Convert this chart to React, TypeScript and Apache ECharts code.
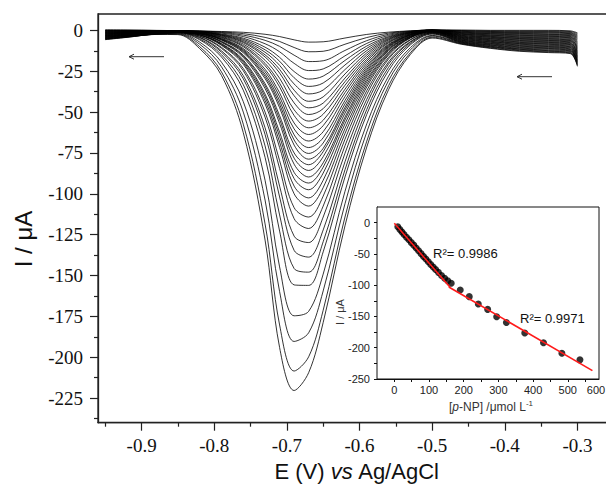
import React, { useEffect, useRef } from "react";
import * as echarts from "echarts";

// Potential grid (V vs Ag/AgCl) shared by all DPV curves
const potentials = [-0.95, -0.92, -0.88, -0.85, -0.82, -0.79, -0.76, -0.73, -0.71, -0.69, -0.67, -0.65, -0.62, -0.59, -0.56, -0.53, -0.5, -0.46, -0.42, -0.38, -0.34, -0.31, -0.3];

// Current (µA) for each successive addition
const curve00 = [0.3, 0.2, 0, -0.2, -0.4, -0.7, -1.2, -2.4, -3.8, -5.8, -7.2, -7.0, -4.7, -2.5, -1.1, -0.3, 0.2, 0.2, 0, 0, 0, -0.3, -1.5];
const curve01 = [0.1, 0.1, -0.1, -0.2, -0.4, -1.0, -2.0, -4.3, -6.8, -10.5, -13.1, -12.8, -8.5, -4.4, -1.7, -0.4, 0.2, -0.1, -0.3, -0.4, -0.4, -0.7, -2.1];
const curve02 = [-0.1, -0.1, -0.2, -0.3, -0.5, -1.3, -2.9, -6.1, -9.8, -15.2, -19.1, -18.6, -12.3, -6.3, -2.4, -0.6, 0.2, -0.3, -0.7, -0.8, -0.8, -1.2, -2.8];
const curve03 = [-0.2, -0.2, -0.2, -0.3, -0.6, -1.7, -3.8, -8.2, -13.1, -20.2, -24.6, -23.6, -15.6, -8.0, -3.1, -0.8, 0.2, -0.6, -1.0, -1.2, -1.2, -1.6, -3.4];
const curve04 = [-0.4, -0.3, -0.3, -0.4, -0.7, -2.2, -4.8, -10.3, -16.5, -25.2, -29.8, -28.0, -18.4, -9.6, -3.8, -1.0, 0.1, -0.9, -1.3, -1.5, -1.6, -2.0, -4.0];
const curve05 = [-0.6, -0.5, -0.4, -0.4, -0.8, -2.5, -5.5, -11.9, -18.9, -29.0, -34.3, -32.2, -21.2, -11.0, -4.3, -1.2, 0.1, -1.1, -1.7, -1.9, -2.1, -2.4, -4.6];
const curve06 = [-0.8, -0.6, -0.5, -0.4, -0.9, -2.8, -6.2, -13.4, -21.4, -32.8, -38.9, -36.5, -24.0, -12.4, -4.9, -1.3, 0.1, -1.4, -2.0, -2.3, -2.5, -2.8, -5.2];
const curve07 = [-1.0, -0.8, -0.5, -0.5, -0.9, -3.0, -6.9, -15.0, -23.9, -36.6, -43.4, -40.7, -26.7, -13.8, -5.4, -1.5, 0.1, -1.6, -2.3, -2.7, -2.9, -3.2, -5.9];
const curve08 = [-1.2, -0.9, -0.6, -0.5, -1.0, -3.3, -7.5, -16.3, -26.1, -40.0, -47.4, -44.5, -29.2, -15.1, -5.9, -1.6, 0.1, -1.9, -2.7, -3.1, -3.3, -3.7, -6.5];
const curve09 = [-1.3, -1.0, -0.7, -0.6, -1.1, -3.7, -8.4, -18.3, -29.3, -44.4, -51.5, -47.9, -31.4, -16.4, -6.6, -1.8, 0.0, -2.2, -3.0, -3.5, -3.7, -4.1, -7.1];
const curve10 = [-1.5, -1.2, -0.8, -0.6, -1.3, -4.1, -9.3, -20.2, -32.3, -48.6, -55.5, -51.3, -33.6, -17.7, -7.2, -2.1, -0.1, -2.4, -3.3, -3.9, -4.1, -4.5, -7.7];
const curve11 = [-1.7, -1.3, -0.8, -0.6, -1.3, -4.4, -10.0, -21.6, -34.6, -52.1, -59.6, -55.0, -36.0, -18.9, -7.7, -2.2, -0.1, -2.7, -3.7, -4.3, -4.5, -4.9, -8.3];
const curve12 = [-1.9, -1.4, -0.9, -0.7, -1.5, -4.9, -11.1, -23.8, -38.2, -56.7, -63.7, -58.3, -38.1, -20.2, -8.5, -2.5, -0.2, -3.0, -4.0, -4.7, -5.0, -5.4, -9.0];
const curve13 = [-2.1, -1.6, -1.0, -0.7, -1.6, -5.2, -11.8, -25.3, -40.6, -60.3, -67.7, -62.0, -40.5, -21.5, -9.0, -2.6, -0.2, -3.2, -4.3, -5.0, -5.4, -5.8, -9.6];
const curve14 = [-2.2, -1.7, -1.1, -0.8, -1.6, -5.5, -12.4, -26.9, -43.0, -63.9, -71.7, -65.7, -42.9, -22.7, -9.5, -2.8, -0.2, -3.5, -4.7, -5.4, -5.8, -6.2, -10.2];
const curve15 = [-2.4, -1.8, -1.1, -0.8, -1.7, -5.7, -13.0, -28.2, -45.2, -67.1, -75.3, -68.9, -45.0, -23.9, -10.0, -2.9, -0.3, -3.8, -5.0, -5.8, -6.2, -6.6, -10.8];
const curve16 = [-2.6, -2.0, -1.2, -0.8, -1.8, -6.0, -13.7, -29.5, -47.3, -70.2, -78.8, -72.2, -47.1, -25.0, -10.5, -3.1, -0.3, -4.0, -5.3, -6.2, -6.6, -7.0, -11.4];
const curve17 = [-2.8, -2.1, -1.3, -0.9, -2.0, -6.7, -15.1, -32.6, -52.2, -75.0, -82.2, -74.2, -48.7, -26.2, -11.2, -3.5, -0.5, -4.3, -5.7, -6.6, -7.0, -7.5, -12.1];
const curve18 = [-3.0, -2.3, -1.4, -0.9, -2.1, -7.0, -15.7, -34.0, -54.4, -78.2, -85.7, -77.3, -50.7, -27.4, -11.7, -3.6, -0.5, -4.5, -6.0, -7.0, -7.4, -7.9, -12.7];
const curve19 = [-3.2, -2.4, -1.4, -1.0, -2.2, -7.3, -16.5, -35.6, -56.9, -81.9, -89.7, -81.0, -53.1, -28.6, -12.3, -3.8, -0.5, -4.8, -6.3, -7.4, -7.8, -8.3, -13.3];
const curve20 = [-3.3, -2.5, -1.5, -1.0, -2.6, -8.1, -18.1, -39.0, -62.3, -86.9, -93.4, -83.7, -54.8, -30.1, -13.2, -4.1, -0.8, -5.1, -6.7, -7.8, -8.2, -8.7, -13.9];
const curve21 = [-3.5, -2.7, -1.6, -1.0, -2.7, -8.4, -18.9, -40.7, -65.0, -90.7, -97.5, -87.3, -57.2, -31.4, -13.7, -4.3, -0.8, -5.3, -7.0, -8.1, -8.6, -9.1, -14.5];
const curve22 = [-3.7, -2.8, -1.7, -1.1, -2.8, -8.8, -19.8, -42.8, -68.3, -95.3, -102.5, -91.7, -60.1, -33.0, -14.4, -4.5, -0.8, -5.6, -7.3, -8.5, -9.1, -9.6, -15.2];
const curve23 = [-3.9, -2.9, -1.7, -1.1, -2.9, -9.2, -20.8, -44.9, -71.6, -100.0, -107.5, -96.2, -63.1, -34.6, -15.1, -4.7, -0.9, -5.9, -7.7, -8.9, -9.5, -10.0, -15.8];
const curve24 = [-4.1, -3.1, -1.8, -1.2, -3.4, -10.4, -23.3, -50.0, -79.7, -108.5, -114.2, -101.4, -66.6, -36.9, -16.5, -5.6, -1.2, -6.1, -8.0, -9.3, -9.9, -10.4, -16.4];
const curve25 = [-4.2, -3.2, -1.9, -1.2, -3.6, -11.0, -24.7, -53.1, -84.5, -115.2, -121.2, -107.5, -70.6, -39.2, -17.5, -5.9, -1.3, -6.4, -8.3, -9.7, -10.3, -10.8, -17.0];
const curve26 = [-4.4, -3.3, -2.0, -1.2, -4.2, -12.5, -27.7, -59.6, -95.3, -125.9, -129.8, -114.2, -75.2, -42.2, -19.3, -6.9, -1.6, -6.7, -8.7, -10.1, -10.7, -11.3, -17.7];
const curve27 = [-4.6, -3.5, -2.0, -1.3, -4.5, -13.4, -29.6, -63.7, -101.9, -134.6, -138.7, -122.1, -80.4, -45.0, -20.6, -7.3, -1.7, -6.9, -9.0, -10.5, -11.1, -11.7, -18.3];
const curve28 = [-4.8, -3.6, -2.1, -1.3, -5.2, -14.9, -33.2, -70.7, -112.9, -145.7, -147.9, -129.3, -85.3, -48.4, -22.6, -8.1, -2.0, -7.2, -9.3, -10.9, -11.5, -12.1, -18.9];
const curve29 = [-5.0, -3.8, -2.2, -1.5, -5.8, -16.3, -36.6, -77.7, -122.8, -155.7, -156.0, -135.5, -89.7, -51.4, -24.6, -8.9, -2.3, -7.4, -9.7, -11.3, -12.0, -12.5, -19.5];
const curve30 = [-5.2, -3.9, -2.3, -1.7, -7.2, -19.5, -43.6, -91.7, -144.7, -174.6, -171.9, -149.1, -98.5, -57.2, -28.0, -10.6, -3.1, -7.7, -10.0, -11.6, -12.4, -12.9, -20.1];
const curve31 = [-5.3, -4.0, -2.3, -2.0, -8.5, -22.3, -50.0, -103.8, -159.8, -190.3, -185.0, -159.4, -106.1, -62.2, -30.7, -12.0, -3.5, -8.0, -10.3, -12.0, -12.8, -13.4, -20.8];
const curve32 = [-5.5, -4.2, -2.4, -2.3, -10.0, -25.4, -57.4, -118.4, -180.2, -208.4, -199.7, -171.2, -114.2, -67.8, -33.9, -13.7, -4.2, -8.2, -10.7, -12.4, -13.2, -13.8, -21.4];
const curve33 = [-5.7, -4.3, -2.5, -2.6, -11.2, -27.6, -62.6, -128.3, -194.0, -220.3, -209.4, -178.7, -119.6, -71.4, -36.3, -14.8, -4.7, -8.5, -11.0, -12.8, -13.6, -14.2, -22.0];

const curves = [curve00, curve01, curve02, curve03, curve04, curve05, curve06, curve07, curve08, curve09, curve10, curve11, curve12, curve13, curve14, curve15, curve16, curve17, curve18, curve19, curve20, curve21, curve22, curve23, curve24, curve25, curve26, curve27, curve28, curve29, curve30, curve31, curve32, curve33];

// Main axis ticks
const xMajorTicks = [-0.9, -0.8, -0.7, -0.6, -0.5, -0.4, -0.3];
const xMinorTicks = [-0.95, -0.85, -0.75, -0.65, -0.55, -0.45, -0.35, -0.25];
const yMajorTicks = [0, -25, -50, -75, -100, -125, -150, -175, -200, -225];
const yMinorTicks = [-12.5, -37.5, -62.5, -87.5, -112.5, -137.5, -162.5, -187.5, -212.5, -237.5];

// Inset calibration data: [p-NP] (µmol/L) vs peak current (µA)
const concLow = [10, 16, 22, 28, 35, 42, 49, 56, 63, 70, 77, 84, 91, 98, 105, 112, 119, 127, 136, 145, 154, 164];
const currentLow = [-6.5, -11, -15, -19, -23.5, -27.5, -32, -36, -40.5, -45, -49.5, -54, -58, -62.5, -67, -71, -75, -79.5, -84.5, -89, -93, -97];
const concHigh = [190, 216, 242, 269, 295, 323, 376, 430, 483, 535];
const currentHigh = [-107.6, -118.3, -130, -138.7, -150.6, -159.7, -176.5, -192, -208.7, -219.4];
const fitLowX = [0, 160];
const fitLowY = [-1, -103];
const fitHighX = [157, 571];
const fitHighY = [-103, -236.6];
const insetXLabels = [0, 100, 200, 300, 400, 500];
const insetXTicks = [0, 50, 100, 150, 200, 250, 300, 350, 400, 450, 500, 550];
const insetYLabels = [0, -50, -100, -150, -200, -250];
const insetYTicks = [0, -25, -50, -75, -100, -125, -150, -175, -200, -225, -250];

const SERIF = "Liberation Serif";
const SANS = "Liberation Sans";

export default function App() {
  const ref = useRef<HTMLDivElement>(null);

  useEffect(() => {
    if (!ref.current) return;
    const chart = echarts.init(ref.current, undefined, { renderer: "svg" });

    const mainSeries = curves.map((vals, idx) => ({
      type: "line",
      name: "c" + idx,
      xAxisIndex: 0,
      yAxisIndex: 0,
      data: potentials.map((e, i) => [e, vals[i]]),
      symbol: "none",
      smooth: 0.35,
      silent: true,
      lineStyle: { color: "#000", width: 0.8 },
      z: 2,
    }));

    const serifRich = {
      s: { fontSize: 19, fontFamily: SERIF, color: "#111", fill: "#111" },
    };

    const option: any = {
      animation: false,
      backgroundColor: "#fff",
      grid: [
        {
          left: 98, top: 14, width: 523, height: 408.7,
          show: true, borderColor: "#222", borderWidth: 1.3,
          backgroundColor: "transparent", containLabel: false, outerBoundsMode: "none",
        },
        {
          left: 377, top: 207, width: 222, height: 172,
          show: true, borderColor: "#111", borderWidth: 1,
          backgroundColor: "#fff", containLabel: false, outerBoundsMode: "none", z: 5,
        },
      ],
      xAxis: [
        {
          type: "value", gridIndex: 0, min: -0.96, max: -0.24, position: "bottom",
          axisLine: { show: true, onZero: false, lineStyle: { color: "#222", width: 1.3 } },
          axisTick: { show: true, inside: false, length: 8, customValues: xMajorTicks, lineStyle: { color: "#222", width: 1.2 } },
          axisLabel: {
            customValues: xMajorTicks,
            formatter: (v: number) => "{s|" + v.toFixed(1) + "}",
            rich: serifRich,
            margin: 13, fontSize: 19, fontFamily: SERIF, color: "#111",
          },
          splitLine: { show: false },
        },
        {
          type: "value", gridIndex: 0, min: -0.96, max: -0.24, position: "bottom",
          axisLine: { show: false, onZero: false },
          axisTick: { show: true, inside: false, length: 4, customValues: xMinorTicks, lineStyle: { color: "#222", width: 1.2 } },
          axisLabel: { show: false },
          splitLine: { show: false },
        },
        {
          type: "value", gridIndex: 1, min: -50, max: 590, position: "bottom",
          axisLine: { show: true, onZero: false, lineStyle: { color: "#111", width: 1 } },
          axisTick: { show: true, inside: false, length: 3, customValues: insetXTicks, lineStyle: { color: "#111" } },
          axisLabel: { customValues: insetXLabels, margin: 5, fontSize: 11, fontFamily: SANS, color: "#222" },
          splitLine: { show: false },
        },
      ],
      yAxis: [
        {
          type: "value", gridIndex: 0, min: -240, max: 10, position: "left",
          axisLine: { show: true, onZero: false, lineStyle: { color: "#222", width: 1.3 } },
          axisTick: { show: true, inside: false, length: 8, customValues: yMajorTicks, lineStyle: { color: "#222", width: 1.2 } },
          axisLabel: {
            customValues: yMajorTicks,
            formatter: (v: number) => "{s|" + String(v) + "}",
            rich: serifRich,
            margin: 15, fontSize: 19, fontFamily: SERIF, color: "#111",
          },
          splitLine: { show: false },
        },
        {
          type: "value", gridIndex: 0, min: -240, max: 10, position: "left",
          axisLine: { show: false, onZero: false },
          axisTick: { show: true, inside: false, length: 4, customValues: yMinorTicks, lineStyle: { color: "#222", width: 1.2 } },
          axisLabel: { show: false },
          splitLine: { show: false },
        },
        {
          type: "value", gridIndex: 1, min: -250, max: 25, position: "left",
          axisLine: { show: true, onZero: false, lineStyle: { color: "#111", width: 1 } },
          axisTick: { show: true, inside: false, length: 3, customValues: insetYTicks, lineStyle: { color: "#111" } },
          axisLabel: { customValues: insetYLabels, margin: 7, fontSize: 11, fontFamily: SANS, color: "#222" },
          splitLine: { show: false },
        },
      ],
      series: [
        ...mainSeries,
        {
          type: "scatter", xAxisIndex: 2, yAxisIndex: 2, silent: true,
          data: concLow.map((c, i) => [c, currentLow[i]]),
          symbol: "circle", symbolSize: 7, itemStyle: { color: "#000" }, z: 6,
        },
        {
          type: "scatter", xAxisIndex: 2, yAxisIndex: 2, silent: true,
          data: concHigh.map((c, i) => [c, currentHigh[i]]),
          symbol: "circle", symbolSize: 7, itemStyle: { color: "#000" }, z: 6,
        },
        {
          type: "line", xAxisIndex: 2, yAxisIndex: 2, silent: true, symbol: "none",
          data: fitLowX.map((x, i) => [x, fitLowY[i]]),
          lineStyle: { color: "#ff1a1a", width: 1.6 }, z: 7,
        },
        {
          type: "line", xAxisIndex: 2, yAxisIndex: 2, silent: true, symbol: "none",
          data: fitHighX.map((x, i) => [x, fitHighY[i]]),
          lineStyle: { color: "#ff1a1a", width: 1.6 }, z: 7,
        },
      ],
      graphic: [
        {
          type: "text", x: 23, y: 239, rotation: Math.PI / 2, silent: true,
          style: { text: "I / μA", fontSize: 24, fontFamily: SANS, fill: "#111", align: "center", verticalAlign: "middle" },
        },
        {
          type: "text", x: 357, y: 471, silent: true,
          style: {
            text: "{n|E (V) }{i|vs}{n| Ag/AgCl}",
            align: "center", verticalAlign: "middle", fontSize: 22, fontFamily: SANS, fill: "#111",
            rich: {
              n: { fontSize: 22, fontFamily: SANS, fill: "#111", color: "#111" },
              i: { fontSize: 22, fontFamily: SANS, fontStyle: "italic", fill: "#111", color: "#111" },
            },
          },
        },
        {
          type: "text", x: 340, y: 312, rotation: Math.PI / 2, silent: true,
          style: { text: "I / μA", fontSize: 11, fontFamily: SANS, fill: "#333", align: "center", verticalAlign: "middle" },
        },
        {
          type: "text", x: 491, y: 407, silent: true, z: 10,
          style: {
            text: "{n|[}{i|p}{n|-NP] /μmol L}{s|-1}",
            align: "center", verticalAlign: "middle", fontSize: 12, fontFamily: SANS, fill: "#333",
            rich: {
              n: { fontSize: 12, fontFamily: SANS, fill: "#333", color: "#333" },
              i: { fontSize: 12, fontFamily: SANS, fontStyle: "italic", fill: "#333", color: "#333" },
              s: { fontSize: 8, fontFamily: SANS, fill: "#333", color: "#333", padding: [0, 0, 7, 0] },
            },
          },
        },
        {
          type: "text", x: 596, y: 389.5, silent: true, z: 10,
          style: { text: "600", fontSize: 11, fontFamily: SANS, fill: "#222", align: "center", verticalAlign: "middle" },
        },
        {
          type: "text", x: 433, y: 253, silent: true, z: 10,
          style: { text: "R²= 0.9986", fontSize: 13, fontFamily: SANS, fill: "#111", align: "left", verticalAlign: "middle" },
        },
        {
          type: "text", x: 520, y: 318, silent: true, z: 10,
          style: { text: "R²= 0.9971", fontSize: 13, fontFamily: SANS, fill: "#111", align: "left", verticalAlign: "middle" },
        },
        {
          type: "line", silent: true, z: 10,
          shape: { x1: 164, y1: 56.7, x2: 129, y2: 56.7 },
          style: { stroke: "#333", lineWidth: 1 },
        },
        {
          type: "polyline", silent: true, z: 10,
          shape: { points: [[134, 54.2], [129, 56.7], [134, 59.2]] },
          style: { stroke: "#333", lineWidth: 1, fill: "none" },
        },
        {
          type: "line", silent: true, z: 10,
          shape: { x1: 552, y1: 76.7, x2: 517, y2: 76.7 },
          style: { stroke: "#333", lineWidth: 1 },
        },
        {
          type: "polyline", silent: true, z: 10,
          shape: { points: [[522, 74.2], [517, 76.7], [522, 79.2]] },
          style: { stroke: "#333", lineWidth: 1, fill: "none" },
        },
      ],
    };

    chart.setOption(option);
    return () => {
      chart.dispose();
    };
  }, []);

  return (
    <div
      ref={ref}
      style={{ position: "fixed", left: 0, top: 0, width: 606, height: 485, background: "#fff" }}
    />
  );
}
